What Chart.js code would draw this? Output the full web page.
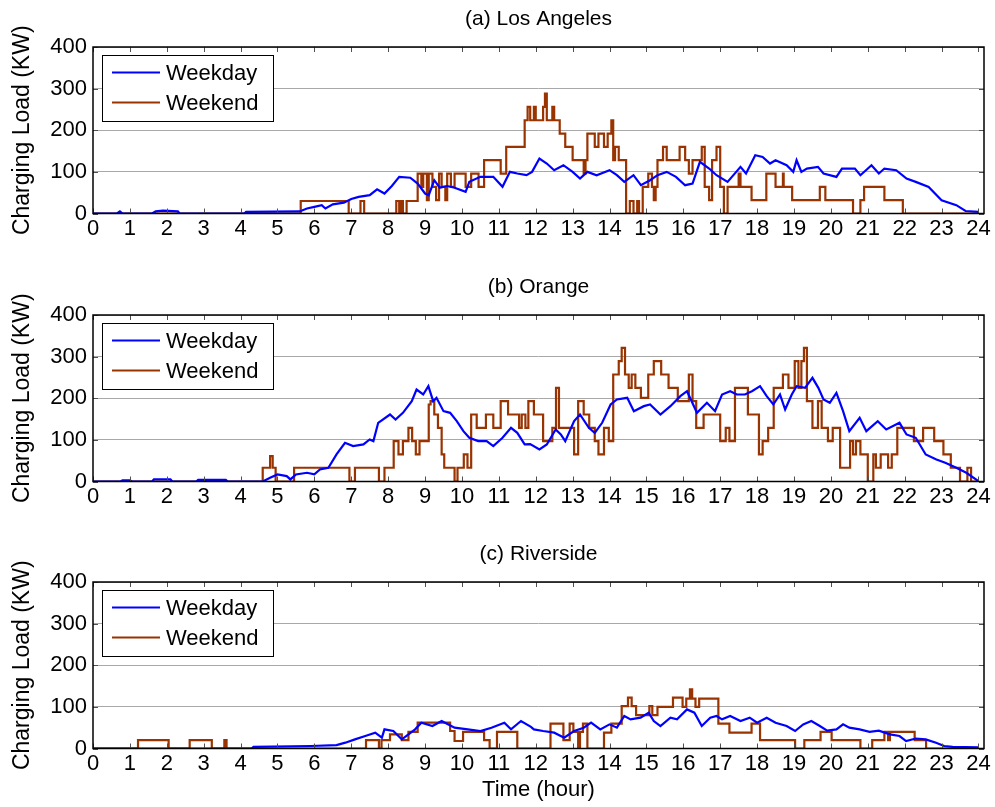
<!DOCTYPE html>
<html>
<head>
<meta charset="utf-8">
<script src="https://cdn.jsdelivr.net/npm/chart.js@4.4.1/dist/chart.umd.min.js"></script>
<style>
  body { margin: 0; background: #fff; width: 995px; height: 807px; overflow: hidden; position: relative; }
  canvas { position: absolute; left: 0; }
</style>
</head>
<body>
<canvas id="chartA" width="995" height="268" style="top:0"></canvas>
<canvas id="chartB" width="995" height="267" style="top:268px"></canvas>
<canvas id="chartC" width="995" height="272" style="top:535px"></canvas>
<script>
// axis ticks
const hourTicks = [0,1,2,3,4,5,6,7,8,9,10,11,12,13,14,15,16,17,18,19,20,21,22,23,24];
const loadTicks = [0, 100, 200, 300, 400];

// (a) Los Angeles
const laWeekdayHour = [0,0.65,0.73,0.8,1.6,1.7,1.9,2.3,2.35,4.1,4.15,5.6,5.8,6.0,6.2,6.3,6.5,6.8,7.0,7.2,7.5,7.7,7.9,8.1,8.3,8.6,8.8,9.0,9.1,9.25,9.4,9.6,9.8,10.1,10.2,10.5,10.85,11.1,11.3,11.5,11.75,11.9,12.1,12.3,12.5,12.75,13.0,13.2,13.4,13.65,14.0,14.2,14.4,14.65,14.85,15.1,15.3,15.55,15.8,16.05,16.25,16.45,16.7,16.9,17.2,17.55,17.7,17.95,18.15,18.35,18.5,18.8,18.98,19.07,19.2,19.35,19.65,19.8,20.15,20.3,20.65,20.8,21.1,21.3,21.45,21.77,22.05,22.3,22.65,23.0,23.4,23.65,24.0];
const laWeekdayLoad = [0,0,5,0,0,5,7,5,0,0,4,5,12,16,20,12,22,26,35,40,44,58,48,66,88,86,72,48,44,80,62,66,62,52,76,88,88,64,100,96,92,100,132,120,104,116,100,84,100,92,104,92,76,92,68,80,92,100,88,68,72,124,108,92,76,112,96,140,136,120,128,116,100,128,100,108,112,96,88,108,108,92,116,96,108,104,84,76,64,32,20,6,4];
const laWeekendHour = [0,5.63,6.93,7.25,7.35,8.22,8.3,8.35,8.4,8.5,8.8,8.9,8.95,9.05,9.1,9.2,9.3,9.38,9.45,9.55,9.6,9.7,9.8,10.1,10.25,10.45,10.6,11.05,11.2,11.7,11.78,11.85,11.95,12.0,12.2,12.25,12.3,12.45,12.5,12.65,12.8,13.0,13.3,13.35,13.4,13.6,13.7,13.85,13.95,14.05,14.1,14.15,14.25,14.3,14.45,14.55,14.65,14.75,14.8,14.9,15.05,15.15,15.2,15.25,15.3,15.45,15.55,15.9,16.05,16.15,16.25,16.5,16.58,16.7,16.78,16.9,17.0,17.1,17.2,17.5,17.55,17.85,18.25,18.5,18.7,18.72,18.95,19.7,19.85,20.6,20.8,20.9,21.45,21.95,24];
const laWeekendLoad = [0,30,0,30,0,30,0,30,0,30,96,64,96,32,96,64,32,96,64,32,96,64,96,64,96,64,128,96,160,224,256,224,256,224,256,288,224,256,224,192,160,128,96,128,192,160,192,160,192,224,128,160,128,128,0,30,0,30,0,64,96,64,32,64,128,160,128,160,128,96,128,160,64,32,128,160,64,0,64,96,64,32,96,64,96,64,32,64,32,0,32,64,32,0,0];

// (b) Orange
const orWeekdayHour = [0,0.75,0.8,1.0,1.05,1.6,1.65,2.1,2.15,2.8,2.85,3.6,3.65,4.6,4.8,5.0,5.25,5.35,5.5,5.8,6.0,6.15,6.38,6.6,6.83,7.05,7.33,7.5,7.6,7.73,8.05,8.2,8.4,8.64,8.77,8.95,9.09,9.22,9.31,9.5,9.68,9.86,10.04,10.2,10.44,10.67,10.85,11.1,11.33,11.5,11.7,11.85,12.1,12.3,12.54,12.68,12.8,13.04,13.2,13.44,13.6,13.8,14.03,14.2,14.48,14.66,14.93,15.1,15.38,15.65,15.92,16.1,16.37,16.64,16.86,17.05,17.27,17.45,17.67,17.86,18.08,18.26,18.44,18.62,18.76,18.94,19.07,19.3,19.5,19.66,19.8,19.97,20.15,20.33,20.5,20.78,20.96,21.27,21.5,21.86,22.05,22.3,22.57,22.86,23.1,23.4,23.67,24.0];
const orWeekdayLoad = [0,0,3,3,0,0,5,5,0,0,4,4,0,0,9,17,13,5,17,21,17,29,33,65,93,85,89,101,97,141,161,149,165,193,221,209,229,193,201,169,165,145,121,105,97,97,85,105,129,117,89,90,77,89,125,113,97,145,161,129,117,141,185,197,201,169,181,185,161,181,205,217,165,189,169,209,217,209,209,217,229,205,185,209,173,209,229,225,249,225,197,189,213,169,121,153,121,145,125,141,113,105,65,53,45,33,21,1];
const orWeekendHour = [0,4.6,4.8,4.87,4.95,5.45,6.95,7.1,7.75,7.9,8.15,8.28,8.4,8.55,8.65,8.75,8.85,9.1,9.15,9.25,9.35,9.45,9.52,9.8,9.88,10.05,10.15,10.25,10.4,10.65,10.85,11.05,11.25,11.55,11.62,11.72,11.8,11.95,12.2,12.45,12.55,12.63,13.04,13.15,13.3,13.45,13.6,13.7,13.85,13.98,14.1,14.25,14.33,14.42,14.52,14.6,14.7,14.85,15.05,15.2,15.4,15.6,15.85,16.15,16.25,16.35,16.55,17.0,17.15,17.25,17.4,17.75,18.05,18.15,18.3,18.45,18.7,18.85,19.02,19.12,19.2,19.27,19.35,19.5,19.65,19.75,19.92,20.05,20.25,20.52,20.6,20.68,20.8,21.0,21.15,21.22,21.35,21.55,21.65,21.8,22.25,22.5,22.8,23.05,23.25,23.5,23.7,23.8,24];
const orWeekendLoad = [0,33,61,33,0,33,0,33,0,33,97,65,97,129,97,65,97,185,193,161,129,65,33,0,33,65,33,161,129,161,129,193,161,129,161,129,193,161,97,129,225,129,65,193,161,129,97,65,129,97,257,289,321,257,225,257,225,201,257,289,257,225,193,257,193,129,161,97,129,97,225,161,65,97,129,225,257,225,289,225,289,321,193,129,193,129,97,129,33,97,65,97,65,0,65,33,65,33,65,129,97,129,97,65,33,0,33,0,0];

// (c) Riverside
const rvWeekdayHour = [0,4.3,4.35,5.9,6.6,6.84,7.1,7.38,7.65,7.83,7.9,8.14,8.37,8.55,8.73,8.9,9.2,9.45,9.8,10.16,10.5,10.8,11.15,11.33,11.6,11.87,11.95,12.2,12.5,12.77,13.04,13.3,13.5,13.75,14.0,14.2,14.4,14.57,14.84,15.06,15.2,15.38,15.65,15.83,16.1,16.3,16.5,16.73,16.9,17.05,17.27,17.55,17.8,18.0,18.26,18.5,18.8,19.03,19.25,19.47,19.7,19.9,20.15,20.33,20.5,20.78,21.05,21.3,21.6,21.86,22.04,22.3,22.57,22.85,23.07,23.3,24.0];
const rvWeekdayLoad = [0,0,4,6,8,14,22,30,38,26,46,42,22,34,46,62,54,66,50,46,42,50,62,46,66,52,46,42,38,26,42,50,62,46,58,50,78,70,74,86,66,54,74,70,94,86,54,74,78,70,78,66,74,62,74,62,54,42,58,66,54,43,46,58,50,46,40,43,34,30,18,24,22,14,6,4,3];
const rvWeekendHour = [0,1.22,2.05,2.62,3.22,3.56,3.62,7.4,7.75,7.82,8.05,8.37,8.55,8.8,9.68,9.8,10.03,10.6,10.75,10.95,11.5,12.4,12.75,12.92,13.02,13.15,13.2,13.28,13.4,13.85,14.05,14.33,14.5,14.6,14.72,15.08,15.16,15.3,15.72,15.98,16.08,16.18,16.24,16.33,16.43,16.95,17.25,17.85,18.08,19.03,19.28,19.72,20.02,20.8,21.12,21.45,21.55,21.6,22.27,22.58,24];
const rvWeekendLoad = [0,20,0,20,0,20,0,20,0,20,34,20,40,62,42,18,40,20,0,40,0,60,20,60,40,0,40,60,0,38,60,102,122,102,80,102,80,100,122,100,120,142,120,100,120,60,38,60,20,0,20,40,20,0,20,40,20,40,20,0,0];

Chart.defaults.font.family = '"Liberation Sans", Arial, Helvetica, sans-serif';
Chart.defaults.color = '#000';
Chart.defaults.animation = false;

const BLUE = '#0000ff';
const BROWN = '#993300';

function points(hours, loads) {
  return hours.map((h, i) => ({ x: h, y: loads[i] }));
}

// MATLAB-like frame: box, inward ticks, legend inside, title above axes
const matlabFrame = {
  id: 'matlabFrame',
  afterDatasetsDraw(chart, args, opts) {
    const { ctx, chartArea: a, scales: { x, y } } = chart;
    ctx.save();
    ctx.strokeStyle = '#505050';
    ctx.lineWidth = 1;
    ctx.beginPath();
    x.ticks.forEach(t => {
      const px = Math.round(x.getPixelForValue(t.value)) + 0.5;
      ctx.moveTo(px, a.bottom); ctx.lineTo(px, a.bottom - 5);
      ctx.moveTo(px, a.top); ctx.lineTo(px, a.top + 5);
    });
    y.ticks.forEach(t => {
      const py = Math.round(y.getPixelForValue(t.value)) + 0.5;
      ctx.moveTo(a.left, py); ctx.lineTo(a.left + 5, py);
      ctx.moveTo(a.right, py); ctx.lineTo(a.right - 5, py);
    });
    ctx.stroke();

    ctx.strokeStyle = '#000';
    ctx.lineWidth = 1.5;
    ctx.strokeRect(a.left, a.top, a.right - a.left, a.bottom - a.top);

    // legend
    const lx = a.left + 9, ly = a.top + 8, lw = 171, lh = 66;
    ctx.fillStyle = '#fff';
    ctx.fillRect(lx, ly, lw, lh);
    ctx.lineWidth = 1;
    ctx.strokeStyle = '#000';
    ctx.strokeRect(lx + 0.5, ly + 0.5, lw, lh);
    ctx.font = '22px "Liberation Sans", Arial, sans-serif';
    ctx.textBaseline = 'middle';
    ctx.textAlign = 'left';
    chart.data.datasets.forEach((ds, i) => {
      const ry = ly + 17.5 + i * 30;
      ctx.strokeStyle = ds.borderColor;
      ctx.lineWidth = 2;
      ctx.beginPath();
      ctx.moveTo(lx + 10, ry); ctx.lineTo(lx + 58, ry);
      ctx.stroke();
      ctx.fillStyle = '#000';
      ctx.fillText(ds.label, lx + 64, ry + 1);
    });

    // title
    ctx.font = '21px "Liberation Sans", Arial, sans-serif';
    ctx.textAlign = 'center';
    ctx.fillText(opts.text, (a.left + a.right) / 2, a.top - 28);
    ctx.restore();
  }
};

function makePanel(id, title, wdH, wdV, weH, weV, showTime) {
  const canvas = document.getElementById(id);
  const H = canvas.height;
  return new Chart(canvas.getContext('2d'), {
    type: 'line',
    data: {
      datasets: [
        { label: 'Weekday', data: points(wdH, wdV), borderColor: BLUE, borderWidth: 2.2, pointRadius: 0, tension: 0 },
        { label: 'Weekend', data: points(weH, weV), borderColor: BROWN, borderWidth: 2.2, pointRadius: 0, stepped: true }
      ]
    },
    options: {
      responsive: false,
      layout: { padding: { top: 47, right: 11, left: 0, bottom: 0 } },
      plugins: {
        legend: { display: false },
        tooltip: { enabled: false },
        matlabFrame: { text: title }
      },
      scales: {
        x: {
          type: 'linear',
          min: 0,
          max: 24.15,
          afterBuildTicks: s => { s.ticks = hourTicks.map(v => ({ value: v })); },
          afterFit: s => { s.height = H - 47 - 166.5; s.paddingLeft = 0; s.paddingRight = 0; },
          ticks: { font: { size: 22 }, padding: 2, autoSkip: false, maxRotation: 0, callback: v => v },
          grid: { display: false, drawTicks: false },
          border: { display: false },
          title: { display: showTime, text: 'Time (hour)', font: { size: 22 }, padding: { bottom: 4 } }
        },
        y: {
          min: 0,
          max: 400,
          afterBuildTicks: s => { s.ticks = loadTicks.map(v => ({ value: v })); },
          afterFit: s => { s.width = 93; },
          ticks: { font: { size: 22 }, padding: 6 },
          grid: { color: '#a8a8a8', lineWidth: 1, drawTicks: false },
          border: { display: false },
          title: { display: true, text: 'Charging Load (KW)', font: { size: 23 }, padding: { top: 9 } }
        }
      }
    },
    plugins: [matlabFrame]
  });
}

makePanel('chartA', '(a) Los Angeles', laWeekdayHour, laWeekdayLoad, laWeekendHour, laWeekendLoad, false);
makePanel('chartB', '(b) Orange', orWeekdayHour, orWeekdayLoad, orWeekendHour, orWeekendLoad, false);
makePanel('chartC', '(c) Riverside', rvWeekdayHour, rvWeekdayLoad, rvWeekendHour, rvWeekendLoad, true);
</script>
</body>
</html>
